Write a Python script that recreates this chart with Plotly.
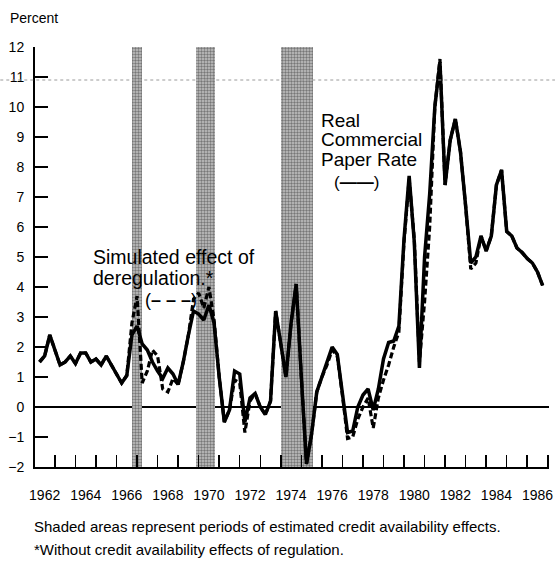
import plotly.graph_objects as go

# ---------------- data ----------------
start_year = 1961.75          # first quarterly observation
quarter = 0.25

real_cp_rate = [
    1.5, 1.7, 2.4, 1.9, 1.4, 1.5, 1.7, 1.45, 1.8, 1.8,
    1.5, 1.6, 1.4, 1.7, 1.4, 1.1, 0.8, 1.05, 2.4, 2.7,
    2.1, 1.9, 1.5, 1.2, 0.95, 1.3, 1.1, 0.75, 1.5, 2.4,
    3.2, 3.1, 2.9, 3.4, 2.8, 1.0, -0.5, -0.1, 1.2, 1.1,
    -0.5, 0.3, 0.45, 0.0, -0.25, 0.2, 3.2, 2.1, 1.0, 2.8,
    4.1, 1.0, -1.9, -0.9, 0.5, 1.0, 1.5, 2.0, 1.75, 0.5,
    -0.85, -0.8, 0.0, 0.4, 0.6, -0.1, 0.6, 1.6, 2.15, 2.2,
    2.7, 5.6, 7.7, 5.5, 1.3, 5.0, 7.1, 10.0, 11.5, 7.4,
    8.9, 9.6, 8.5, 6.7, 4.8, 5.0, 5.7, 5.2, 5.7, 7.4,
    7.9, 5.85, 5.7, 5.3, 5.15, 4.95, 4.8, 4.5, 4.05,
]

simulated_dereg = [
    1.5, 1.7, 2.4, 1.9, 1.4, 1.5, 1.7, 1.45, 1.8, 1.8,
    1.5, 1.6, 1.4, 1.7, 1.4, 1.1, 0.8, 1.05, 2.8, 3.7,
    0.8, 1.2, 1.9, 1.7, 0.6, 0.5, 0.95, 0.75, 1.5, 2.4,
    3.6, 3.8, 3.3, 4.0, 2.9, 1.0, -0.5, -0.1, 0.9, 0.8,
    -0.85, 0.2, 0.45, 0.0, -0.25, 0.2, 3.2, 2.1, 1.0, 2.8,
    4.1, 1.0, -1.9, -0.9, 0.5, 1.0, 1.4, 1.9, 1.7, 0.4,
    -1.05, -1.0, -0.4, 0.0, 0.3, -0.7, 0.3, 0.9, 1.4, 2.0,
    2.5, 5.5, 7.6, 5.6, 1.5, 3.5, 6.0, 10.0, 11.6, 7.4,
    8.9, 9.6, 8.5, 6.7, 4.6, 4.8, 5.7, 5.2, 5.7, 7.4,
    7.9, 5.85, 5.7, 5.3, 5.15, 4.95, 4.8, 4.5, 4.05,
]

shade_start = [1966.25, 1969.35, 1973.5]
shade_end = [1966.75, 1970.3, 1975.05]

year_labels = [1962, 1964, 1966, 1968, 1970, 1972, 1974, 1976, 1978, 1980, 1982, 1984, 1986]
y_ticks = list(range(-2, 13))

dates = [start_year + i * quarter for i in range(len(real_cp_rate))]

# ---------------- geometry helpers ----------------
W, H = 559, 561
L, R, T, B = 35, 6, 47, 94
PW, PH = W - L - R, H - T - B
FONT = "Liberation Sans, Arial, Helvetica, sans-serif"


def px(x):
    return (x - L) / PW


def py(y):
    return (H - B - y) / PH


fig = go.Figure()

# shaded periods
fig.add_trace(go.Bar(
    x=[(s + e) / 2 for s, e in zip(shade_start, shade_end)],
    width=[e - s for s, e in zip(shade_start, shade_end)],
    y=[14] * len(shade_start),
    base=-2,
    marker=dict(color="#a0a0a0", line=dict(width=0),
                pattern=dict(shape=".", fgcolor="#2a2a2a", bgcolor="#c4c4c4",
                             size=3, solidity=0.5)),
    hoverinfo="skip", showlegend=False,
))

fig.add_trace(go.Scatter(
    x=dates, y=simulated_dereg, mode="lines",
    line=dict(color="black", width=3.2, dash="6px,3px"),
    showlegend=False,
))
fig.add_trace(go.Scatter(
    x=dates, y=real_cp_rate, mode="lines",
    line=dict(color="black", width=3.5),
    showlegend=False,
))

fig.update_layout(
    width=W, height=H,
    margin=dict(l=L, r=R, t=T, b=B),
    paper_bgcolor="white", plot_bgcolor="white",
    font=dict(family=FONT, color="black"),
    bargap=0,
    xaxis=dict(
        range=[1961.53, 1986.56],
        tickmode="array", tickvals=year_labels,
        ticktext=[str(v) for v in year_labels],
        ticks="", ticklen=0,
        showgrid=False, zeroline=False,
        showline=True, linecolor="black", linewidth=2,
        tickfont=dict(size=14, family=FONT),
        ticklabelstandoff=14,
        minor=dict(tick0=1962.5, dtick=1, ticks="inside", ticklen=12,
                   tickwidth=1.5, tickcolor="black", showgrid=False),
        fixedrange=True,
    ),
    yaxis=dict(
        range=[-2, 12],
        tickmode="array", tickvals=y_ticks,
        ticks="inside", ticklen=13, tickwidth=1.5, tickcolor="black",
        showgrid=False,
        zeroline=True, zerolinecolor="black", zerolinewidth=1.2,
        showline=True, linecolor="black", linewidth=2,
        tickfont=dict(size=14, family=FONT),
        ticklabelstandoff=6,
        fixedrange=True,
    ),
)

# faint dotted scan line
fig.add_shape(type="line", xref="paper", yref="paper",
              x0=px(0), x1=px(W), y0=py(80), y1=py(80),
              line=dict(color="#9a9a9a", width=1, dash="dot"), layer="above")


def note(text, x, y, size, anchor="left"):
    fig.add_annotation(text=text, x=px(x), y=py(y), xref="paper", yref="paper",
                       xanchor=anchor, yanchor="middle", showarrow=False,
                       font=dict(size=size, family=FONT, color="black"))


note("Percent", 8, 18, 14)
note("Simulated effect of", 91, 257, 19.5)
note("deregulation.*", 91, 277.5, 19.5)
note("(<b>\u2013 \u2013 \u2013</b>)", 144, 300, 18)
note("Real", 321, 120, 19)
note("Commercial", 321, 139.5, 19)
note("Paper Rate", 321, 159, 19)
note("(<b>\u2014\u2014</b>)", 334, 182, 17)
note("Shaded areas represent periods of estimated credit availability effects.", 32, 526, 15)
note("*Without credit availability effects of regulation.", 32, 549, 15)

fig.write_html("out.html",
               config={"displayModeBar": False, "staticPlot": True},
               post_script="document.body.style.margin='0';document.body.style.overflow='hidden';")
